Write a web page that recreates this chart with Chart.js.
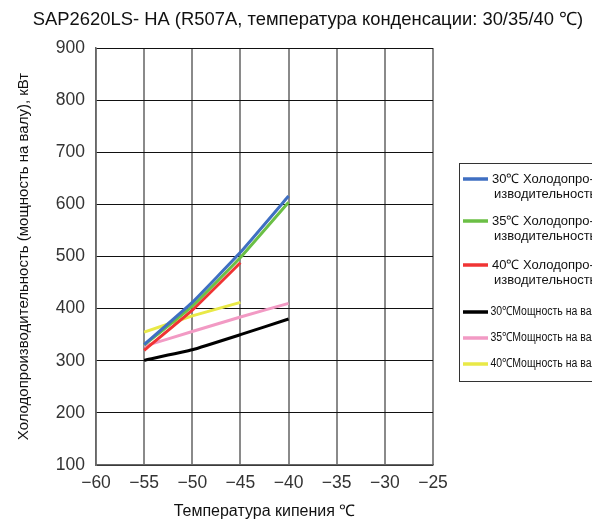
<!DOCTYPE html>
<html>
<head>
<meta charset="utf-8">
<script src="https://cdn.jsdelivr.net/npm/chart.js@4/dist/chart.umd.min.js"></script>
<style>
  html, body { margin: 0; padding: 0; background: #fff; }
  #wrap { width: 592px; height: 524px; position: relative; }
</style>
</head>
<body>
<div id="wrap"><canvas id="c" width="592" height="524"></canvas></div>
<script>
// Evaporating temperature, °C
const temps = [-55, -50, -45, -40];
// Cooling capacity, kW, at condensing temperature 30/35/40 °C
const cap30 = [331, 412, 508, 616];
const cap35 = [330, 405, 498, 604];
const cap40 = [320, 397, 488, null];
// Shaft power, kW, at condensing temperature 30/35/40 °C
const pow30 = [301, 321, 350, 380];
const pow35 = [328, 356, 384, 410];
const pow40 = [355, 386, 412, null];

const xTicks = [-60, -55, -50, -45, -40, -35, -30, -25];
const yTicks = [100, 200, 300, 400, 500, 600, 700, 800, 900];

const titleText = 'SAP2620LS- HA (R507A, температура конденсации: 30/35/40 ℃)';
const xTitle = 'Температура кипения ℃';
const yTitle = 'Холодопроизводительность (мощность на валу), кВт';

const seriesLabels = [
  ['30℃ Холодопро-', 'изводительность'],
  ['35℃ Холодопро-', 'изводительность'],
  ['40℃ Холодопро-', 'изводительность'],
  ['30℃Мощность на валу'],
  ['35℃Мощность на валу'],
  ['40℃Мощность на валу']
];
const seriesValues = [cap30, cap35, cap40, pow30, pow35, pow40];
const seriesColors = ['#3f6fc2', '#6bbf45', '#f03434', '#000000', '#f29ac4', '#e9e947'];

const FONT = '"Liberation Sans", Arial, sans-serif';

const datasets = seriesValues.map((vals, i) => ({
  label: seriesLabels[i].join(' '),
  data: temps.map((t, j) => ({ x: t, y: vals[j] })).filter(p => p.y !== null),
  borderColor: seriesColors[i],
  backgroundColor: seriesColors[i],
  borderWidth: 3,
  pointRadius: 0,
  tension: 0.1,
  fill: false
}));

// Chart heading and boxed legend on the right
const decorations = {
  id: 'decorations',
  afterDraw(chart) {
    const ctx = chart.ctx;
    ctx.save();
    ctx.fillStyle = '#111';
    ctx.font = '18.4px ' + FONT;
    ctx.textAlign = 'center';
    ctx.textBaseline = 'middle';
    ctx.fillText(titleText, 308, 20);

    // legend frame
    ctx.strokeStyle = '#333';
    ctx.lineWidth = 1;
    ctx.strokeRect(459.5, 163.5, 200, 218);

    const rows = [179, 221, 265, 312, 338, 364];
    seriesLabels.forEach((lines, i) => {
      const y = rows[i];
      ctx.strokeStyle = seriesColors[i];
      ctx.lineWidth = 3.5;
      ctx.beginPath();
      ctx.moveTo(463, y);
      ctx.lineTo(488, y);
      ctx.stroke();
      ctx.fillStyle = '#111';
      ctx.textAlign = 'left';
      ctx.textBaseline = 'middle';
      if (lines.length > 1) {
        ctx.font = '13px ' + FONT;
        ctx.fillText(lines[0], 492, y);
        ctx.fillText(lines[1], 494, y + 15);
      } else {
        // condensed label: squeeze horizontally
        ctx.save();
        ctx.translate(490.5, y);
        ctx.scale(0.84, 1);
        ctx.font = '12.5px ' + FONT;
        ctx.fillText(lines[0], 0, 0);
        ctx.restore();
      }
    });
    ctx.restore();
  }
};

new Chart(document.getElementById('c'), {
  type: 'line',
  data: { datasets },
  options: {
    responsive: false,
    animation: false,
    layout: { padding: { left: 0, right: 159, top: 48, bottom: 0 } },
    plugins: {
      legend: { display: false },
      title: { display: false },
      tooltip: { enabled: false }
    },
    scales: {
      x: {
        type: 'linear',
        min: -60, max: -25,
        afterBuildTicks(axis) { axis.ticks = xTicks.map(v => ({ value: v })); },
        afterFit(axis) { axis.height = 59; },
        ticks: {
          color: '#333',
          font: { family: FONT, size: 17.5 },
          padding: 8,
          maxRotation: 0,
          callback: v => String(v).replace('-', '\u2212')
        },
        grid: { color: '#8a8a8a', lineWidth: 2, drawTicks: false },
        border: { color: '#666', width: 1.5 },
        title: {
          display: true,
          text: xTitle,
          color: '#111',
          font: { family: FONT, size: 16 },
          padding: { top: 0, bottom: 3 }
        }
      },
      y: {
        min: 100, max: 900,
        afterBuildTicks(axis) { axis.ticks = yTicks.map(v => ({ value: v })); },
        afterFit(axis) { axis.width = 96; },
        ticks: {
          color: '#333',
          font: { family: FONT, size: 17.5 },
          padding: 11
        },
        grid: { color: '#111', lineWidth: 1, drawTicks: false },
        border: { color: '#666', width: 1.5 },
        title: {
          display: true,
          text: yTitle,
          color: '#111',
          font: { family: FONT, size: 15 },
          padding: { top: 15, bottom: 0 }
        }
      }
    }
  },
  plugins: [decorations]
});
</script>
</body>
</html>
